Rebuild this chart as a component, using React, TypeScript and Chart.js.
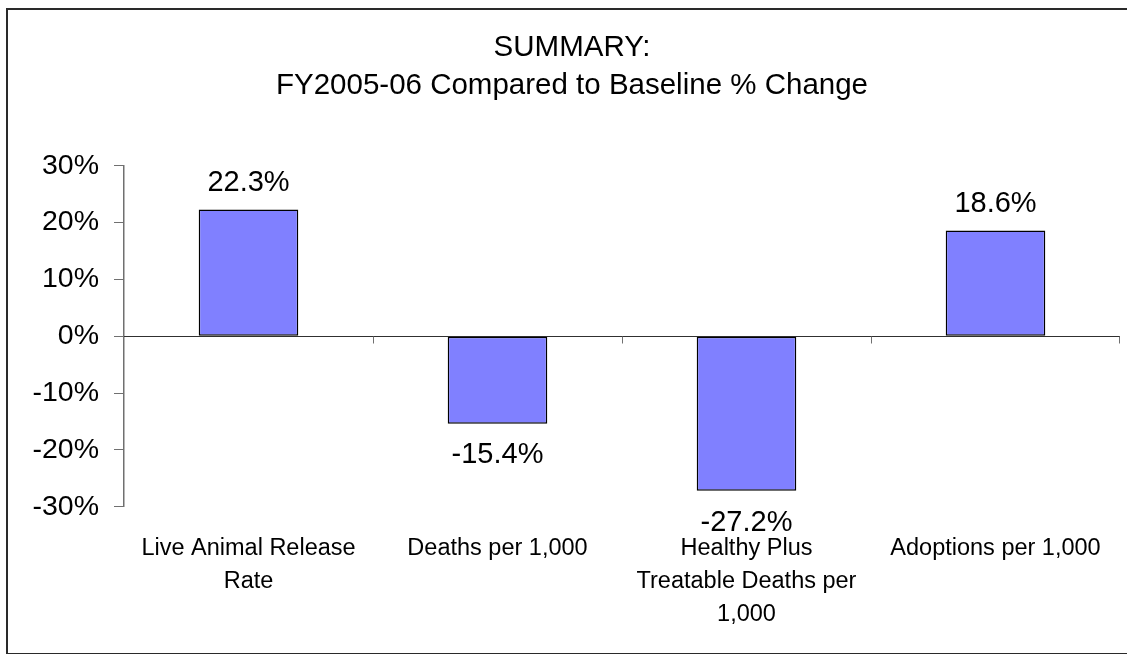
import React, { useEffect, useRef } from 'react';
import { Chart, registerables } from 'chart.js';

Chart.register(...registerables);

const categories: (string | string[])[] = [
  ['Live Animal Release', 'Rate'],
  'Deaths per 1,000',
  ['Healthy Plus', 'Treatable Deaths per', '1,000'],
  'Adoptions per 1,000',
];
const percentChange = [22.3, -15.4, -27.2, 18.6];
const yTickValues = [-30, -20, -10, 0, 10, 20, 30];
const titleLines = ['SUMMARY:', 'FY2005-06 Compared to Baseline % Change'];

const FONT = '"Liberation Sans", Arial, Helvetica, sans-serif';

const zeroLinePlugin = {
  id: 'zeroLine',
  beforeDatasetsDraw(chart: any) {
    const { ctx, chartArea, scales } = chart;
    const x = scales.x;
    const y = scales.y;
    const y0 = Math.round(y.getPixelForValue(0)) + 0.5;
    ctx.save();
    ctx.strokeStyle = '#303030';
    ctx.lineWidth = 1;
    ctx.beginPath();
    ctx.moveTo(chartArea.left, y0);
    ctx.lineTo(chartArea.right, y0);
    ctx.stroke();
    ctx.strokeStyle = '#707070';
    ctx.beginPath();
    for (let i = 0; i < categories.length; i++) {
      let xb: number;
      if (i < categories.length - 1) {
        xb = (x.getPixelForValue(i) + x.getPixelForValue(i + 1)) / 2;
      } else {
        xb = chartArea.right - 1;
      }
      xb = Math.round(xb) + 0.5;
      ctx.moveTo(xb, y0);
      ctx.lineTo(xb, y0 + 7);
    }
    ctx.stroke();
    ctx.restore();
  },
};

const valueLabelPlugin = {
  id: 'valueLabels',
  afterDatasetsDraw(chart: any) {
    const { ctx } = chart;
    const meta = chart.getDatasetMeta(0);
    const size = 29;
    const capH = size * 0.716;
    ctx.save();
    ctx.font = `${size}px ${FONT}`;
    ctx.fillStyle = '#000000';
    ctx.textAlign = 'center';
    ctx.textBaseline = 'alphabetic';
    meta.data.forEach((el: any, i: number) => {
      const v = percentChange[i];
      const txt = v.toFixed(1) + '%';
      if (v >= 0) {
        ctx.fillText(txt, el.x, el.y - 18);
      } else {
        ctx.fillText(txt, el.x, el.y + 19 + capH);
      }
    });
    ctx.restore();
  },
};

export default function App() {
  const canvasRef = useRef<HTMLCanvasElement | null>(null);

  useEffect(() => {
    if (!canvasRef.current) return;
    const chart = new Chart(canvasRef.current, {
      type: 'bar',
      data: {
        labels: categories,
        datasets: [
          {
            data: percentChange,
            backgroundColor: '#8080FF',
            borderColor: '#000000',
            borderWidth: 1.5,
            borderSkipped: false,
            barPercentage: 0.4,
            categoryPercentage: 1,
          },
        ],
      },
      options: {
        responsive: false,
        animation: false,
        devicePixelRatio: 1,
        layout: { padding: { left: 24, right: 7, top: 0, bottom: 0 } },
        plugins: {
          legend: { display: false },
          tooltip: { enabled: false },
          title: {
            display: true,
            text: titleLines,
            color: '#000000',
            font: { family: FONT, size: 29.5, weight: 'normal', lineHeight: 38.3 / 29.5 },
            padding: { top: 28.5, bottom: 60.6 },
          },
        },
        scales: {
          x: {
            type: 'category',
            border: { display: false },
            grid: { display: false, drawTicks: false },
            ticks: {
              color: '#000000',
              font: { family: FONT, size: 23.5, lineHeight: 33.3 / 23.5 },
              padding: 25,
              maxRotation: 0,
              minRotation: 0,
              autoSkip: false,
            },
            afterFit(scale: any) {
              scale.height = 654 - 506.7;
            },
          },
          y: {
            min: -30,
            max: 30,
            border: { display: true, color: '#707070', width: 1.5 },
            grid: {
              drawOnChartArea: false,
              drawTicks: true,
              tickLength: 10,
              color: '#707070',
            },
            ticks: {
              color: '#000000',
              font: { family: FONT, size: 28.5 },
              padding: 15,
              callback: (v: any) => `${v}%`,
            },
            afterBuildTicks(scale: any) {
              scale.ticks = yTickValues.map((v) => ({ value: v }));
            },
            afterFit(scale: any) {
              scale.width = 100;
            },
          },
        },
      },
      plugins: [zeroLinePlugin, valueLabelPlugin],
    });
    return () => chart.destroy();
  }, []);

  return (
    <div
      style={{
        position: 'fixed',
        left: 0,
        top: 0,
        width: 1127,
        height: 654,
        overflow: 'hidden',
        background: '#ffffff',
      }}
    >
      <canvas
        ref={canvasRef}
        width={1127}
        height={654}
        style={{ position: 'absolute', left: 0, top: 0, width: 1127, height: 654 }}
      />
      <div
        style={{
          position: 'absolute',
          left: 6,
          top: 8,
          width: 1140,
          height: 643,
          borderTop: '2px solid #2a2a2a',
          borderLeft: '2px solid #2a2a2a',
          borderBottom: '2px solid #2a2a2a',
          borderRight: 'none',
          pointerEvents: 'none',
        }}
      />
    </div>
  );
}
